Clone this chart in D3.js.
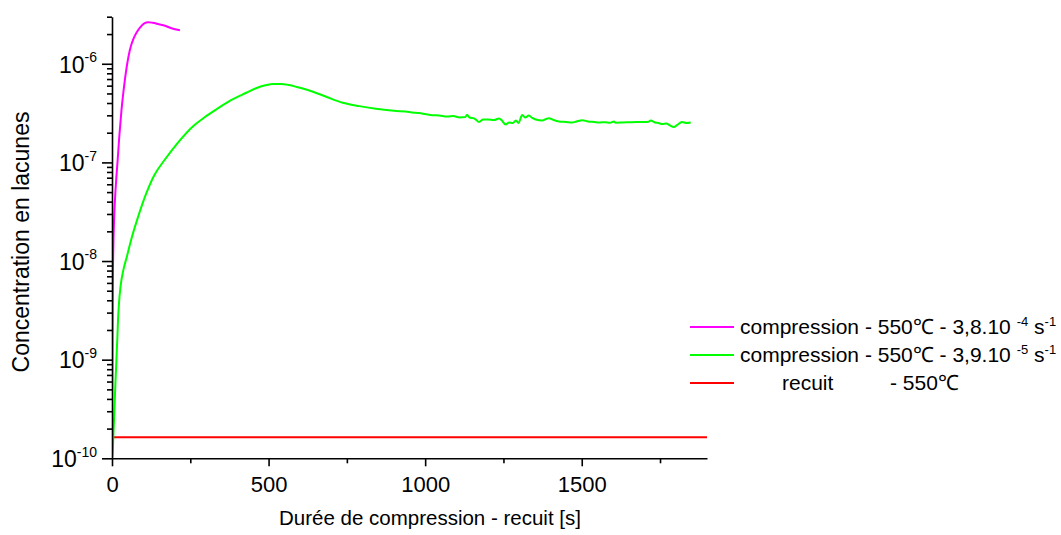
<!DOCTYPE html>
<html><head><meta charset="utf-8">
<script src="https://cdn.jsdelivr.net/npm/d3@7"></script>
<style>body{margin:0;background:#fff;} svg{display:block;font-family:"Liberation Sans",Arial,sans-serif;}</style>
</head><body><svg id="c" width="1061" height="535"></svg>
<script>
const xMajorTicks = [0, 500, 1000, 1500];
const xMinorTicks = [250, 750, 1250, 1750];
const yDecadeExponents = [-10, -9, -8, -7, -6];

const magentaTime = [0,1,2,4,7,10,14,18,23,30,37,47,57,68,79,90,103,116,130,150,169,190,217];
const magentaConc = [1e-10,1e-9,3.98e-9,1.26e-8,2.82e-8,4.47e-8,7.08e-8,1.05e-7,1.78e-7,3.31e-7,5.37e-7,9.33e-7,1.38e-6,1.78e-6,2.09e-6,2.34e-6,2.57e-6,2.64e-6,2.60e-6,2.51e-6,2.43e-6,2.29e-6,2.19e-6];

const greenTime = [0,2.2,4.2,6.4,8.6,10.5,12.8,15,17.2,19.2,22.3,27.2,36.4,47.9,62.5,80.5,110,135,169,210,259,295,333,380,429,460,490,515,540,565,590,620,680,737,790,843,900,949,960,980,1000,1023,1045,1070,1090,1110,1128,1134,1140,1160,1172,1185,1200,1220,1236,1245,1257,1268,1280,1290,1298,1310,1320,1331,1342,1353,1374,1386,1395,1410,1427,1450,1470,1483,1502,1520,1540,1555,1575,1590,1603,1608,1630,1661,1690,1714,1720,1735,1745,1757,1770,1780,1794,1805,1820,1835,1848];
const greenConc = [1e-10,1.13e-10,1.66e-10,2.45e-10,3.63e-10,5.37e-10,7.94e-10,1.16e-9,1.70e-9,2.51e-9,3.72e-9,5.50e-9,8.13e-9,1.12e-8,1.70e-8,2.63e-8,4.90e-8,7.41e-8,1.07e-7,1.58e-7,2.33e-7,2.85e-7,3.44e-7,4.27e-7,5.08e-7,5.65e-7,6.05e-7,6.25e-7,6.24e-7,6.08e-7,5.82e-7,5.48e-7,4.68e-7,4.02e-7,3.72e-7,3.49e-7,3.33e-7,3.24e-7,3.20e-7,3.16e-7,3.09e-7,3.01e-7,2.99e-7,2.92e-7,2.95e-7,2.85e-7,2.88e-7,3.05e-7,2.88e-7,2.75e-7,2.57e-7,2.72e-7,2.72e-7,2.69e-7,2.79e-7,2.66e-7,2.42e-7,2.54e-7,2.51e-7,2.66e-7,2.51e-7,3.02e-7,2.85e-7,2.99e-7,2.82e-7,2.72e-7,2.66e-7,2.75e-7,2.81e-7,2.69e-7,2.60e-7,2.57e-7,2.54e-7,2.60e-7,2.68e-7,2.60e-7,2.57e-7,2.54e-7,2.56e-7,2.52e-7,2.60e-7,2.53e-7,2.54e-7,2.56e-7,2.57e-7,2.59e-7,2.66e-7,2.54e-7,2.51e-7,2.45e-7,2.48e-7,2.39e-7,2.28e-7,2.40e-7,2.57e-7,2.51e-7,2.54e-7];

const redTime = [0, 1900];
const redConc = [1.63e-10, 1.63e-10];

const seriesColors = ["#ff00ff", "#00ff00", "#ff0000"];

const svg = d3.select("#c");
const x = d3.scaleLinear().domain([0, 1900]).range([112, 707]);
const y = d3.scaleLog().domain([1e-10, 3e-6]).range([458.3, 16.7]);

const line = d3.line().x(d => x(d[0])).y(d => y(d[1])).curve(d3.curveMonotoneX);
const series = [d3.zip(magentaTime, magentaConc), d3.zip(greenTime, greenConc), d3.zip(redTime, redConc)];

const plot = svg.append("g");
plot.append("clipPath").attr("id","clip").append("rect").attr("x",112).attr("y",0).attr("width",600).attr("height",458.3);
[2,1,0].forEach(i => {
  plot.append("path").datum(series[i]).attr("d", line)
    .attr("fill","none").attr("stroke",seriesColors[i]).attr("stroke-width",2)
    .attr("stroke-linejoin","round").attr("clip-path","url(#clip)");
});

// X axis
const gx = svg.append("g").attr("transform","translate(0,458.3)");
gx.call(d3.axisBottom(x).tickValues(xMajorTicks).tickSize(8).tickSizeOuter(0).tickPadding(0).tickFormat(d3.format("d")));
gx.select(".domain").attr("stroke","#000").attr("stroke-width",1.6);
gx.selectAll(".tick line").attr("stroke","#000").attr("stroke-width",1.6);
gx.selectAll(".tick text").attr("y",34).attr("dy",0).attr("font-size",22).attr("font-family","Liberation Sans, Arial, sans-serif").attr("fill","#000");
const gxm = svg.append("g").attr("transform","translate(0,458.3)");
gxm.call(d3.axisBottom(x).tickValues(xMinorTicks).tickSize(5).tickSizeOuter(0).tickFormat(""));
gxm.select(".domain").remove();
gxm.selectAll(".tick line").attr("stroke","#000").attr("stroke-width",1.6);

// Y axis
const majorY = yDecadeExponents.map(e => Math.pow(10, e));
const minorY = [];
yDecadeExponents.forEach(e => { for (let k = 2; k <= 9; k++) { const v = k * Math.pow(10, e); if (v <= 3e-6 * 1.0001) minorY.push(v); } });
const gy = svg.append("g").attr("transform","translate(112,0)");
gy.call(d3.axisLeft(y).tickValues(majorY).tickSize(10).tickSizeOuter(0).tickFormat(""));
gy.select(".domain").attr("stroke","#000").attr("stroke-width",1.6);
gy.selectAll(".tick line").attr("stroke","#000").attr("stroke-width",1.6);
gy.selectAll(".tick").each(function(d, i) {
  const t = d3.select(this).append("text").attr("x",-15).attr("dy","0.36em")
    .attr("text-anchor","end").attr("fill","#000").attr("font-size",23);
  t.append("tspan").text("10");
  t.append("tspan").attr("font-size",14).attr("dy","-0.75em").text(String(yDecadeExponents[i]));
});
const gym = svg.append("g").attr("transform","translate(112,0)");
gym.call(d3.axisLeft(y).tickValues(minorY).tickSize(5).tickSizeOuter(0).tickFormat(""));
gym.select(".domain").remove();
gym.selectAll(".tick line").attr("stroke","#000").attr("stroke-width",1.6);

// Axis titles
svg.append("text").attr("x",430).attr("y",525).attr("text-anchor","middle").attr("font-size",20.5).attr("fill","#000")
  .text("Durée de compression - recuit [s]");
svg.append("text").attr("transform","translate(29,242) rotate(-90)").attr("text-anchor","middle").attr("font-size",23).attr("fill","#000")
  .text("Concentration en lacunes");

// Legend
const legendY = [327, 355, 383];
const legendMain = ["compression - 550℃ - 3,8.10 ", "compression - 550℃ - 3,9.10 "];
const legendExp = ["-4", "-5"];
const lg = svg.append("g");
[0,1,2].forEach(i => {
  lg.append("line").attr("x1",690).attr("x2",734).attr("y1",legendY[i]).attr("y2",legendY[i])
    .attr("stroke",seriesColors[i]).attr("stroke-width",2);
});
[0,1].forEach(i => {
  const t = lg.append("text").attr("x",740).attr("y",legendY[i]+7).attr("font-size",21).attr("fill","#000");
  t.append("tspan").text(legendMain[i]);
  t.append("tspan").attr("font-size",13).attr("dy",-8).text(legendExp[i]);
  t.append("tspan").attr("dy",8).text(" s");
  t.append("tspan").attr("font-size",13).attr("dy",-8).text("-1");
});
lg.append("text").attr("x",782).attr("y",legendY[2]+7).attr("font-size",21).attr("fill","#000").text("recuit");
lg.append("text").attr("x",890).attr("y",legendY[2]+7).attr("font-size",21).attr("fill","#000").text("- 550℃");
</script></body></html>
